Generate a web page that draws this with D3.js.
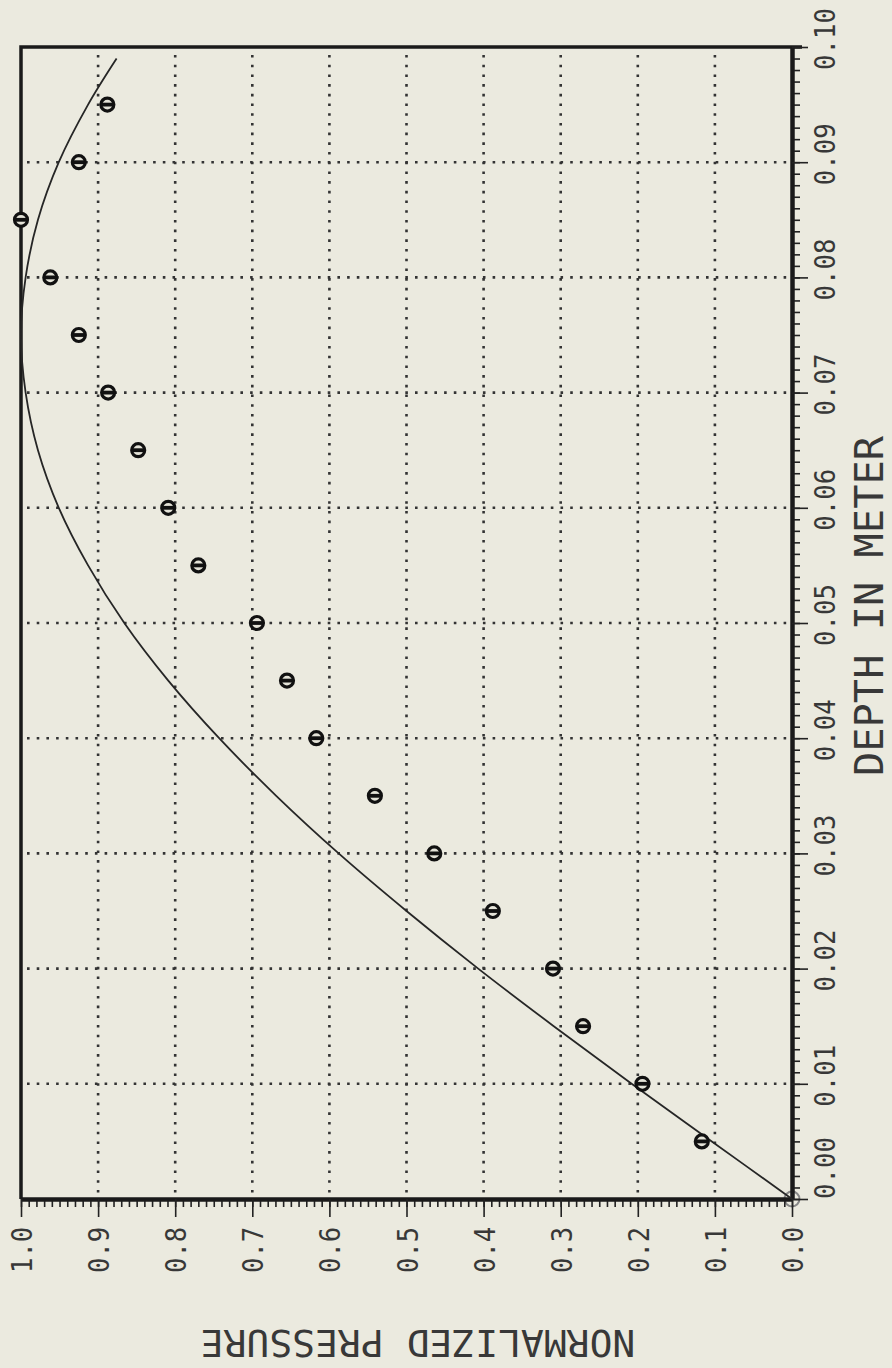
<!DOCTYPE html>
<html>
<head>
<meta charset="utf-8">
<script src="https://cdn.jsdelivr.net/npm/d3@7"></script>
<style>
  html, body { margin: 0; padding: 0; background: #ebeadf; }
  svg { display: block; }
  text { font-family: "DejaVu Sans Mono", monospace; fill: #383838; }
</style>
</head>
<body>
<div id="chart"></div>
<script>
// ticks and labels
const depthTicks = [0, 0.01, 0.02, 0.03, 0.04, 0.05, 0.06, 0.07, 0.08, 0.09, 0.10];
const depthLabels = ["0.00", "0.01", "0.02", "0.03", "0.04", "0.05", "0.06", "0.07", "0.08", "0.09", "0.10"];
const pressureTicks = [0, 0.1, 0.2, 0.3, 0.4, 0.5, 0.6, 0.7, 0.8, 0.9, 1.0];
const pressureLabels = ["0.0", "0.1", "0.2", "0.3", "0.4", "0.5", "0.6", "0.7", "0.8", "0.9", "1.0"];

// measured points (depth in m, normalized pressure)
const pointDepth = [0, 0.005, 0.010, 0.015, 0.020, 0.025, 0.030, 0.035, 0.040, 0.045,
  0.050, 0.055, 0.060, 0.065, 0.070, 0.075, 0.080, 0.085, 0.090, 0.095];
const pointPressure = [0, 0.117, 0.194, 0.271, 0.310, 0.388, 0.464, 0.541, 0.617, 0.655,
  0.694, 0.770, 0.809, 0.848, 0.887, 0.925, 0.962, 1.000, 0.925, 0.888];

// theoretical curve
const curveDepth = [0, 0.005, 0.010, 0.015, 0.020, 0.025, 0.030, 0.035, 0.040, 0.045,
  0.050, 0.055, 0.060, 0.065, 0.070, 0.075, 0.080, 0.085, 0.090, 0.095, 0.099];
const curvePressure = [0, 0.104, 0.208, 0.309, 0.407, 0.500, 0.588, 0.669, 0.743, 0.809,
  0.866, 0.913, 0.951, 0.978, 0.994, 1.000, 0.994, 0.978, 0.951, 0.913, 0.876];

const W = 892, H = 1368;
const plotL = 21, plotR = 792, plotT = 47, plotB = 1199;

// page is turned: pressure runs right-to-left, depth runs bottom-to-top
const x = d3.scaleLinear().domain([0, 1]).range([plotR, plotL]);
const y = d3.scaleLinear().domain([0, 0.1]).range([plotB, plotT]);

const svg = d3.select("#chart").append("svg")
  .attr("width", W)
  .attr("height", H);

svg.append("rect").attr("width", W).attr("height", H).attr("fill", "#ebeadf");

// dotted grid
const grid = svg.append("g")
  .attr("stroke", "#333")
  .attr("stroke-width", 2.6)
  .attr("stroke-dasharray", "2.6 7.1");

grid.selectAll(".gv")
  .data(pressureTicks.slice(1, -1))
  .enter().append("line")
  .attr("x1", d => x(d)).attr("x2", d => x(d))
  .attr("y1", plotT + 8).attr("y2", plotB - 3);

grid.selectAll(".gh")
  .data(depthTicks.slice(1, -1))
  .enter().append("line")
  .attr("y1", d => y(d)).attr("y2", d => y(d))
  .attr("x1", plotL + 6).attr("x2", plotR - 3);

// frame top and left
svg.append("path")
  .attr("d", `M${plotL},${plotB} V${plotT} H${plotR + 10}`)
  .attr("fill", "none")
  .attr("stroke", "#1a1a1a")
  .attr("stroke-width", 3.5);

// origin marker (hollow)
svg.append("circle")
  .attr("cx", x(pointPressure[0])).attr("cy", y(pointDepth[0]))
  .attr("r", 7.5)
  .attr("fill", "#ebeadf")
  .attr("stroke", "#888")
  .attr("stroke-width", 2);

// bottom axis (pressure)
const bAxis = svg.append("g").attr("transform", `translate(0,${plotB})`);
bAxis.append("g")
  .call(d3.axisBottom(x).tickValues(d3.range(0, 1.0001, 0.01)).tickSize(8).tickSizeOuter(0).tickFormat(""));
bAxis.append("g")
  .call(d3.axisBottom(x).tickValues(pressureTicks).tickSize(18).tickSizeOuter(0).tickFormat(""));
bAxis.selectAll(".tick line").attr("stroke", "#222").attr("stroke-width", 1.6);
bAxis.selectAll(".domain").attr("stroke", "#1a1a1a").attr("stroke-width", 4);

// right axis (depth)
const rAxis = svg.append("g").attr("transform", `translate(${plotR},0)`);
rAxis.append("g")
  .call(d3.axisRight(y).tickValues(d3.range(0, 0.10001, 0.001)).tickSize(8).tickSizeOuter(0).tickFormat(""));
rAxis.append("g")
  .call(d3.axisRight(y).tickValues(depthTicks).tickSize(16).tickSizeOuter(0).tickFormat(""));
rAxis.selectAll(".tick line").attr("stroke", "#222").attr("stroke-width", 1.6);
rAxis.selectAll(".domain").attr("stroke", "#1a1a1a").attr("stroke-width", 4);

// tick labels, rotated like the page
svg.selectAll(".plab")
  .data(pressureTicks)
  .enter().append("text")
  .attr("class", "plab")
  .attr("transform", d => `translate(${x(d) + 11},${plotB + 74}) rotate(-90)`)
  .attr("font-size", 28)
  .attr("textLength", (d, i) => pressureLabels[i].length * 15.4)
  .attr("lengthAdjust", "spacingAndGlyphs")
  .text((d, i) => pressureLabels[i]);

// first depth label sits wholly above its tick, the rest are centred a little above
svg.selectAll(".dlab")
  .data(depthTicks)
  .enter().append("text")
  .attr("class", "dlab")
  .attr("transform", (d, i) => `translate(${plotR + 43},${i === 0 ? y(d) : y(d) - 8}) rotate(-90)`)
  .attr("text-anchor", (d, i) => i === 0 ? "start" : "middle")
  .attr("font-size", 29)
  .attr("textLength", (d, i) => depthLabels[i].length * 15.5)
  .attr("lengthAdjust", "spacingAndGlyphs")
  .text((d, i) => depthLabels[i]);

// axis titles
svg.append("text")
  .attr("transform", `translate(${plotR + 91},606) rotate(-90)`)
  .attr("text-anchor", "middle")
  .attr("font-size", 39)
  .attr("textLength", 340)
  .attr("lengthAdjust", "spacingAndGlyphs")
  .text("DEPTH IN METER");

svg.append("text")
  .attr("transform", `translate(418,${plotB + 131}) rotate(180)`)
  .attr("text-anchor", "middle")
  .attr("font-size", 38)
  .text("NORMALIZED PRESSURE");

// theory curve
const curve = d3.range(curveDepth.length).map(i => ({ d: curveDepth[i], p: curvePressure[i] }));
const line = d3.line()
  .x(function (d) { return x(d.p); })
  .y(function (d) { return y(d.d); })
  .curve(d3.curveCatmullRom);

svg.append("path")
  .datum(curve)
  .attr("d", line)
  .attr("fill", "none")
  .attr("stroke", "#262626")
  .attr("stroke-width", 1.8);

// measured points
const pts = d3.range(1, pointDepth.length).map(i => ({ d: pointDepth[i], p: pointPressure[i] }));
const mark = svg.selectAll(".dot")
  .data(pts)
  .enter().append("g")
  .attr("class", "dot")
  .attr("transform", d => `translate(${x(d.p)},${y(d.d)})`);

mark.append("circle")
  .attr("r", 6.5)
  .attr("fill", "#e4e3d8")
  .attr("stroke", "#111")
  .attr("stroke-width", 3.2);

mark.append("line")
  .attr("x1", -6.5).attr("x2", 6.5)
  .attr("stroke", "#111")
  .attr("stroke-width", 3.8);
</script>
</body>
</html>
